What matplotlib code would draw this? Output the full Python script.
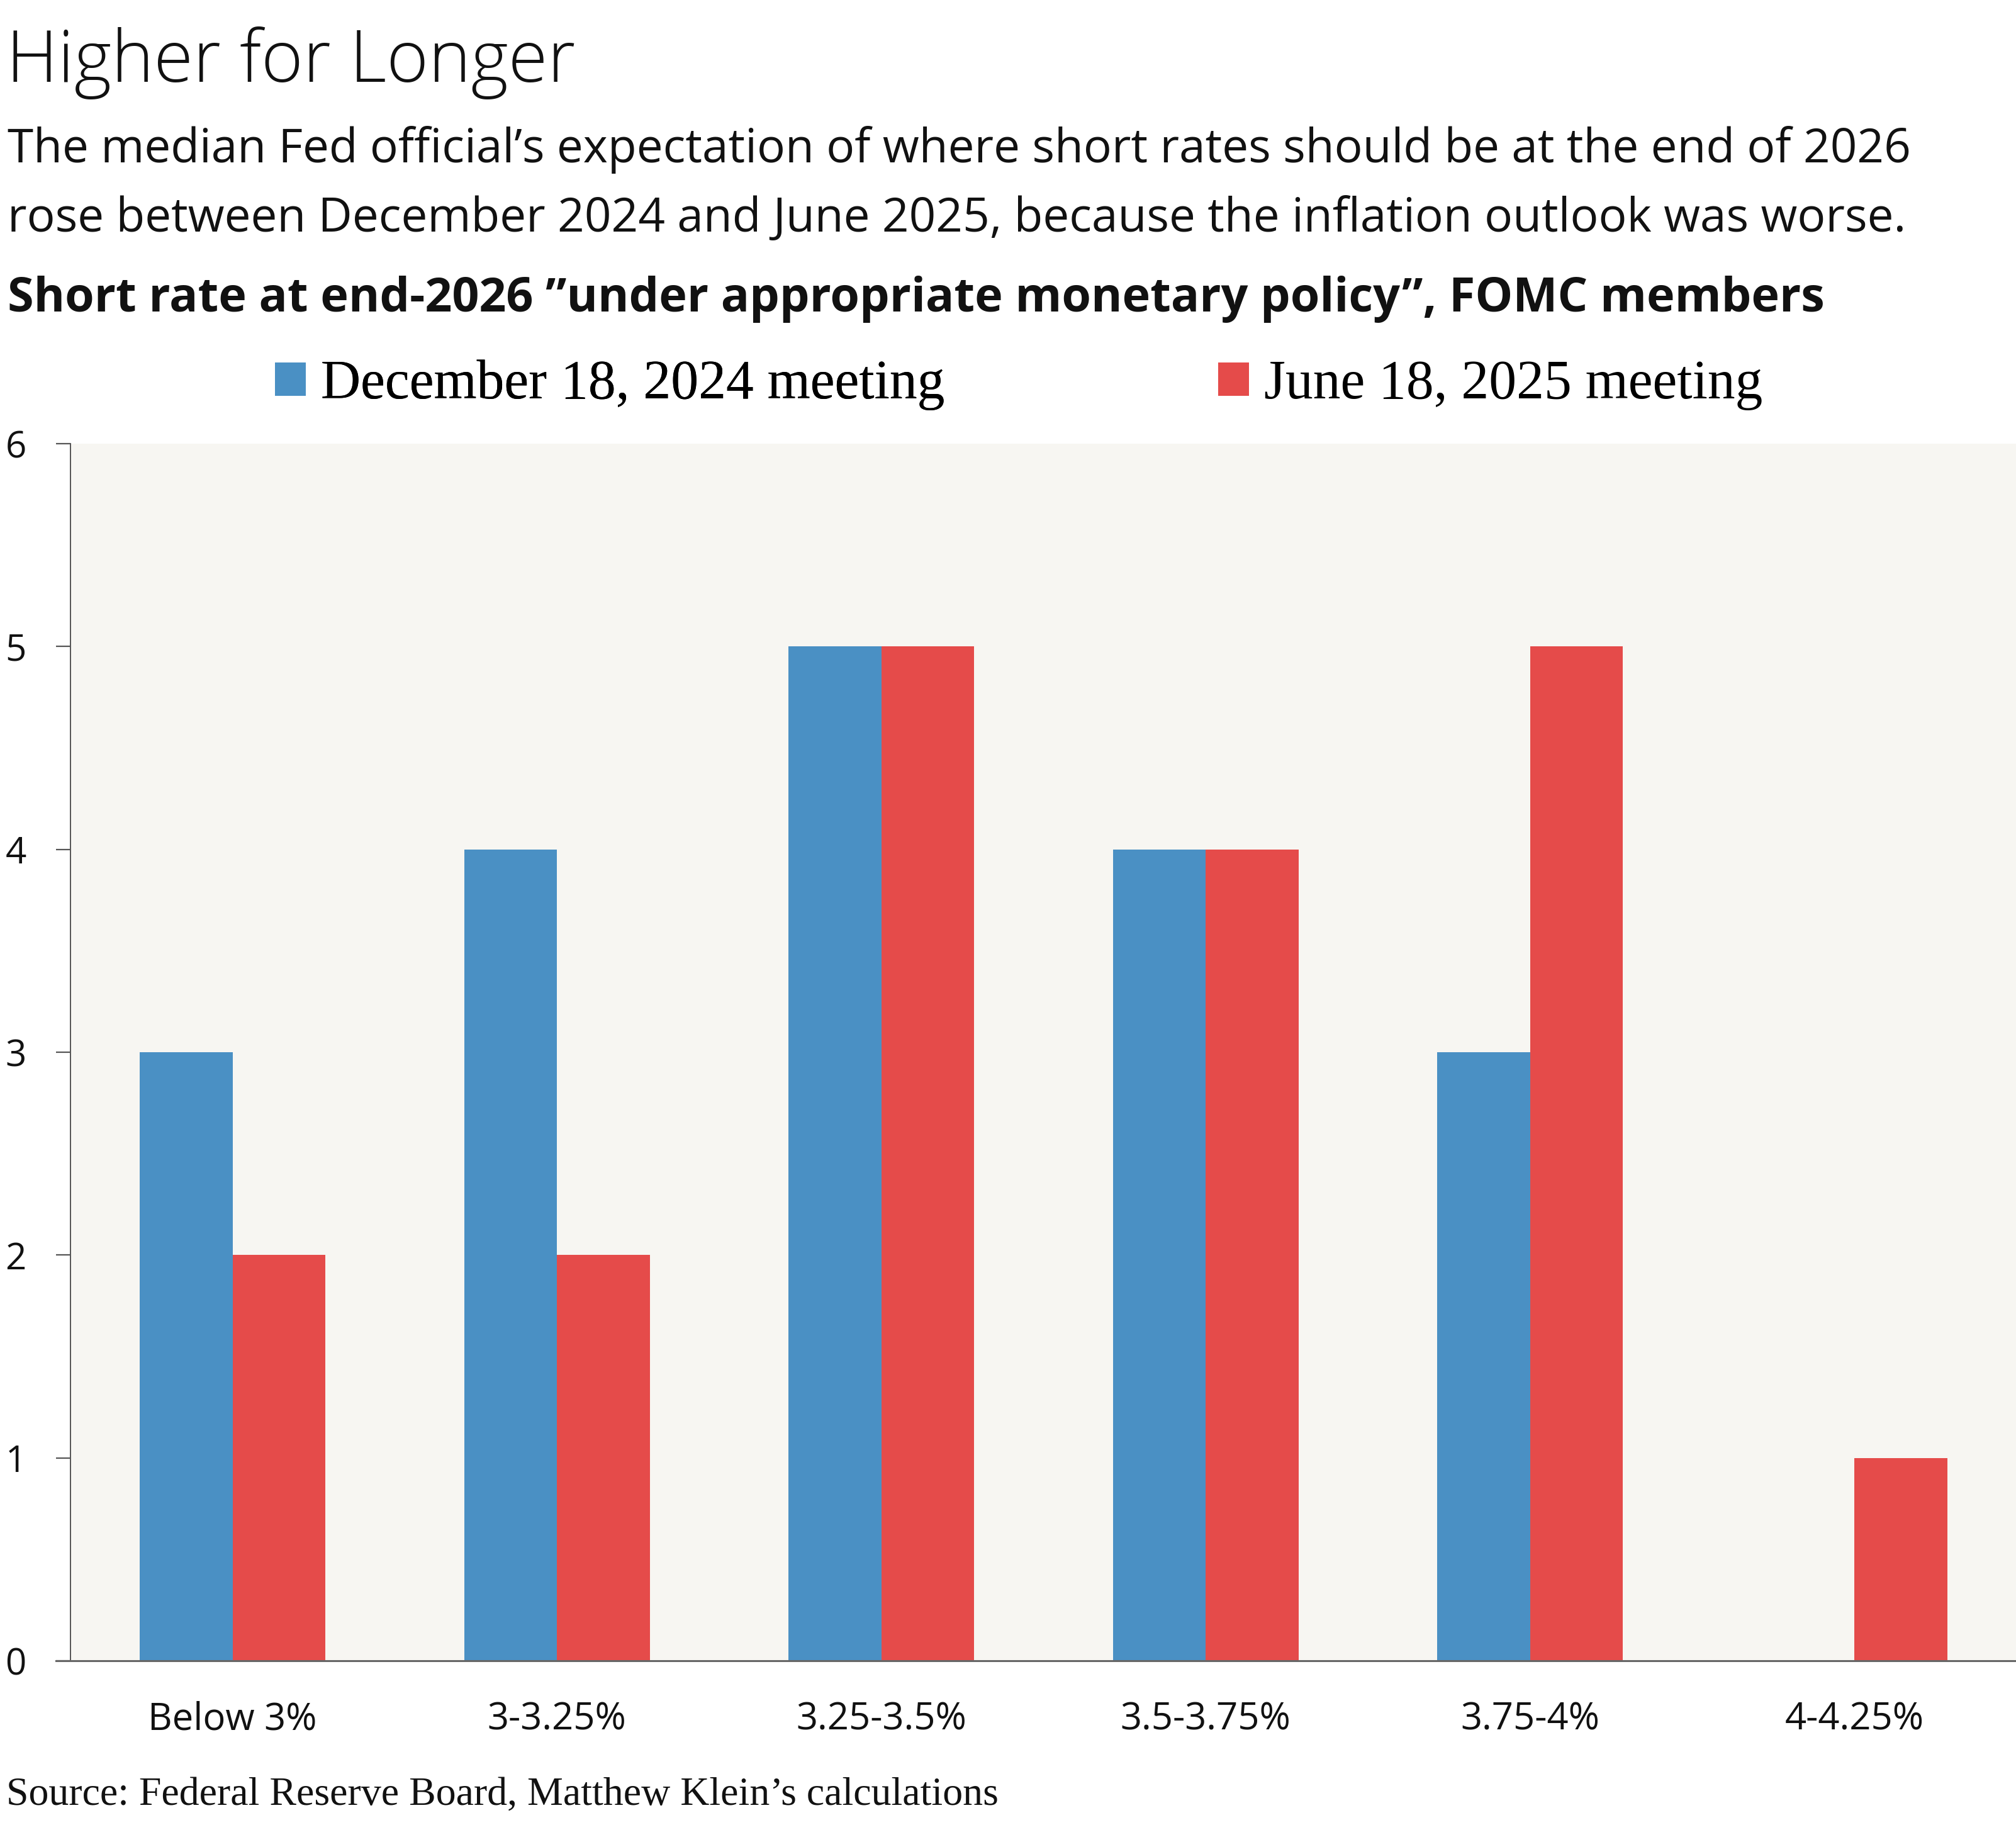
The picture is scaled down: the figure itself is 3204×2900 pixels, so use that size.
import matplotlib
matplotlib.use("Agg")
import matplotlib.pyplot as plt
import numpy as np

categories = ["Below 3%", "3-3.25%", "3.25-3.5%", "3.5-3.75%", "3.75-4%", "4-4.25%"]
dec_2024 = [3, 4, 5, 4, 3, 0]
jun_2025 = [2, 2, 5, 4, 5, 1]
series_names = ["December 18, 2024 meeting", "June 18, 2025 meeting"]
y_ticks = [0, 1, 2, 3, 4, 5, 6]

BLUE = "#4A90C4"
RED = "#E54B4A"
BG = "#F7F6F2"
SANS = ["Open Sans", "DejaVu Sans"]
SERIF = ["Liberation Serif", "DejaVu Serif"]

W, H = 3205, 2900
fig = plt.figure(figsize=(W / 100, H / 100), dpi=100)
fig.patch.set_facecolor("white")

def fx(px):
    return px / W

def fy(py):
    return 1 - py / H

ax = fig.add_axes([fx(112), fy(2639), 1 - fx(112), fy(705) - fy(2639)])
ax.set_facecolor(BG)

x = np.arange(len(categories))
bw = 0.286
b1 = ax.bar(x - bw / 2, dec_2024, width=bw, color=BLUE, label=series_names[0], zorder=2)
b2 = ax.bar(x + bw / 2, jun_2025, width=bw, color=RED, label=series_names[1], zorder=2)

ax.set_xlim(-0.5, len(categories) - 0.5)
ax.set_ylim(0, 6)
ax.set_yticks(y_ticks)
ax.set_yticklabels([str(v) for v in y_ticks], fontfamily=SANS, fontsize=42, color="#111111")
for lab in ax.get_yticklabels():
    lab.set_horizontalalignment("left")
ax.tick_params(axis="y", length=16.5, width=1.6, color="#555555", pad=58)
ax.set_xticks(x)
ax.set_xticklabels(categories, fontfamily=SANS, fontsize=43, color="#111111")
ax.tick_params(axis="x", length=0, pad=46)

for s in ["top", "right"]:
    ax.spines[s].set_visible(False)
ax.spines["left"].set_color("#555555")
ax.spines["left"].set_linewidth(1.4)
ax.spines["bottom"].set_color("#666666")
ax.spines["bottom"].set_linewidth(2.2)
ax.spines["bottom"].set_bounds(-0.5 - 23 / 515, len(categories) - 0.5)
ax.spines["bottom"].set_zorder(3)

# Titles
fig.text(fx(10), fy(130), "Higher for Longer", fontfamily=SANS, fontsize=82,
         fontweight="light", va="baseline", ha="left", color="#111111")
fig.text(fx(12), fy(258),
         "The median Fed official\u2019s expectation of where short rates should be at the end of 2026",
         fontfamily=SANS, fontsize=53.8, va="baseline", ha="left", color="#111111")
fig.text(fx(12), fy(368),
         "rose between December 2024 and June 2025, because the inflation outlook was worse.",
         fontfamily=SANS, fontsize=53.8, va="baseline", ha="left", color="#111111")
fig.text(fx(12), fy(495),
         "Short rate at end-2026 \u201dunder appropriate monetary policy\u201d, FOMC members",
         fontfamily=SANS, fontsize=54.3, fontweight="bold", va="baseline", ha="left", color="#111111")

# Legend (two entries placed separately)
leg_kw = dict(loc="center left", frameon=False, prop={"family": SERIF, "size": 63},
              handlelength=0.56, handleheight=0.56, handletextpad=0.28,
              borderaxespad=0, borderpad=0)
leg1 = fig.legend(handles=[b1], labels=[series_names[0]],
                  bbox_to_anchor=(fx(437), fy(612)), **leg_kw)
leg2 = fig.legend(handles=[b2], labels=[series_names[1]],
                  bbox_to_anchor=(fx(1936), fy(612)), **leg_kw)
fig.add_artist(leg1)

fig.text(fx(10), fy(2868), "Source: Federal Reserve Board, Matthew Klein\u2019s calculations",
         fontfamily=SERIF, fontsize=46, va="baseline", ha="left", color="#111111")

fig.savefig("out.png", dpi=100, facecolor="white")
